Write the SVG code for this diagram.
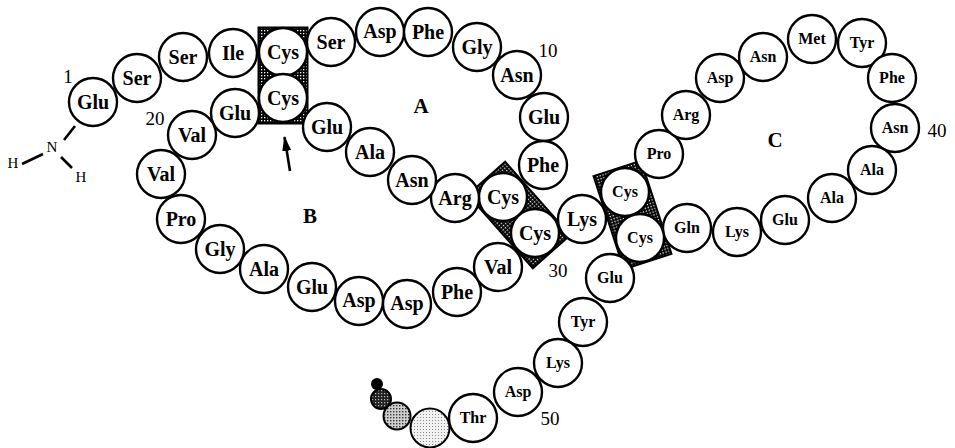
<svg xmlns="http://www.w3.org/2000/svg" width="955" height="448" viewBox="0 0 955 448">
<style>
.n circle{fill:#fff;stroke:#000;stroke-width:2.4}
.n text{font-family:"Liberation Serif","Times New Roman",serif;font-weight:bold;font-size:20px;text-anchor:middle;fill:#000}
.n.s text{font-size:16px}
.num{font-family:"Liberation Serif","Times New Roman",serif;font-size:19px;text-anchor:middle;fill:#000}
.ring{font-family:"Liberation Serif","Times New Roman",serif;font-weight:bold;font-size:21px;text-anchor:middle;fill:#000}
.atom{font-family:"Liberation Serif","Times New Roman",serif;font-size:15px;text-anchor:middle;fill:#000}
.box{fill:url(#stip);stroke:#000;stroke-width:2}
.bond{stroke:#000;stroke-width:2.6;fill:none}
.tail{stroke:#000;stroke-width:2}
</style>
<defs>
<pattern id="stip" width="3" height="3" patternUnits="userSpaceOnUse">
<rect width="3" height="3" fill="#000"/>
<rect x="0" y="0" width="1.3" height="1.3" fill="#fff"/>
</pattern>
<pattern id="light" width="3" height="3" patternUnits="userSpaceOnUse">
<rect width="3" height="3" fill="#f2f2f2"/>
<rect x="0" y="0" width="1" height="1" fill="#888"/>
</pattern>
<pattern id="mid" width="3" height="3" patternUnits="userSpaceOnUse">
<rect width="3" height="3" fill="#cfcfcf"/>
<rect x="0" y="0" width="1.4" height="1.4" fill="#333"/>
</pattern>
<pattern id="dark" width="3" height="3" patternUnits="userSpaceOnUse">
<rect width="3" height="3" fill="#222"/>
<rect x="0" y="0" width="1.2" height="1.2" fill="#bbb"/>
</pattern>
<marker id="ah" markerWidth="15" markerHeight="9" refX="14" refY="4.5" orient="auto" markerUnits="userSpaceOnUse">
<path d="M0,0 L15,4.5 L0,9 Z" fill="#000"/>
</marker>
</defs>

<g id="disulfide-bridges">
<rect class="box" x="258.5" y="27.5" width="49" height="96"/>
<rect class="box" x="-49" y="-25" width="98" height="50" transform="translate(519,215) rotate(48.4)"/>
<rect class="box" x="-49" y="-25" width="98" height="50" transform="translate(632.5,215) rotate(71.9)"/>
</g>

<g id="connectors">
<line class="bond" x1="75" y1="126" x2="64" y2="140"/>
<line class="bond" x1="22" y1="164" x2="43" y2="154"/>
<line class="bond" x1="61" y1="157" x2="72" y2="168"/>
<line class="bond" x1="290" y1="171" x2="284.5" y2="137" marker-end="url(#ah)" stroke-width="2.2"/>
</g>

<g id="r1" class="n"><circle cx="93" cy="102" r="24"/><text x="93" y="109">Glu</text></g>
<g id="r2" class="n"><circle cx="137" cy="78" r="24"/><text x="137" y="85">Ser</text></g>
<g id="r3" class="n"><circle cx="183" cy="57" r="24"/><text x="183" y="64">Ser</text></g>
<g id="r4" class="n"><circle cx="233" cy="53" r="24"/><text x="233" y="60">Ile</text></g>
<g id="r5" class="n"><circle cx="283" cy="52" r="24"/><text x="283" y="59">Cys</text></g>
<g id="r6" class="n"><circle cx="331" cy="42" r="24"/><text x="331" y="49">Ser</text></g>
<g id="r7" class="n"><circle cx="380" cy="32" r="24"/><text x="380" y="38">Asp</text></g>
<g id="r8" class="n"><circle cx="428" cy="32" r="24"/><text x="428" y="39">Phe</text></g>
<g id="r9" class="n"><circle cx="477" cy="47" r="24"/><text x="477" y="54">Gly</text></g>
<g id="r10" class="n"><circle cx="517" cy="75" r="24"/><text x="517" y="82">Asn</text></g>
<g id="r11" class="n"><circle cx="544" cy="117" r="24"/><text x="544" y="124">Glu</text></g>
<g id="r12" class="n"><circle cx="543" cy="165" r="24"/><text x="543" y="172">Phe</text></g>
<g id="r13" class="n"><circle cx="503" cy="197" r="24"/><text x="503" y="204">Cys</text></g>
<g id="r14" class="n"><circle cx="455" cy="198" r="24"/><text x="455" y="205">Arg</text></g>
<g id="r15" class="n"><circle cx="412" cy="180" r="24"/><text x="412" y="187">Asn</text></g>
<g id="r16" class="n"><circle cx="370" cy="152" r="24"/><text x="370" y="159">Ala</text></g>
<g id="r17" class="n"><circle cx="327" cy="127" r="24"/><text x="327" y="134">Glu</text></g>
<g id="r18" class="n"><circle cx="283" cy="98" r="24"/><text x="283" y="105">Cys</text></g>
<g id="r19" class="n"><circle cx="235" cy="113" r="24"/><text x="235" y="120">Glu</text></g>
<g id="r20" class="n"><circle cx="192" cy="135" r="24"/><text x="192" y="142">Val</text></g>
<g id="r21" class="n"><circle cx="161" cy="174" r="24"/><text x="161" y="181">Val</text></g>
<g id="r22" class="n"><circle cx="181" cy="219" r="24"/><text x="181" y="226">Pro</text></g>
<g id="r23" class="n"><circle cx="220" cy="249" r="24"/><text x="220" y="256">Gly</text></g>
<g id="r24" class="n"><circle cx="264" cy="269" r="24"/><text x="264" y="276">Ala</text></g>
<g id="r25" class="n"><circle cx="312" cy="287" r="24"/><text x="312" y="294">Glu</text></g>
<g id="r26" class="n"><circle cx="359" cy="301" r="24"/><text x="359" y="307">Asp</text></g>
<g id="r27" class="n"><circle cx="407" cy="304" r="24"/><text x="407" y="310">Asp</text></g>
<g id="r28" class="n"><circle cx="457" cy="292" r="24"/><text x="457" y="299">Phe</text></g>
<g id="r29" class="n"><circle cx="498" cy="267" r="24"/><text x="498" y="274">Val</text></g>
<g id="r30" class="n"><circle cx="535" cy="233" r="24"/><text x="535" y="240">Cys</text></g>
<g id="r31" class="n"><circle cx="582" cy="219" r="24"/><text x="582" y="226">Lys</text></g>
<g id="r32" class="n s"><circle cx="625" cy="192" r="24"/><text x="625" y="197">Cys</text></g>
<g id="r33" class="n s"><circle cx="659" cy="154" r="24"/><text x="659" y="159">Pro</text></g>
<g id="r34" class="n s"><circle cx="686" cy="115" r="24"/><text x="686" y="120">Arg</text></g>
<g id="r35" class="n s"><circle cx="720" cy="78" r="24"/><text x="720" y="83">Asp</text></g>
<g id="r36" class="n s"><circle cx="763" cy="57" r="24"/><text x="763" y="62">Asn</text></g>
<g id="r37" class="n s"><circle cx="812" cy="39" r="24"/><text x="812" y="44">Met</text></g>
<g id="r38" class="n s"><circle cx="862" cy="43" r="24"/><text x="862" y="48">Tyr</text></g>
<g id="r39" class="n s"><circle cx="892" cy="78" r="24"/><text x="892" y="83">Phe</text></g>
<g id="r40" class="n s"><circle cx="895" cy="128" r="24"/><text x="895" y="133">Asn</text></g>
<g id="r41" class="n s"><circle cx="872" cy="170" r="24"/><text x="872" y="175">Ala</text></g>
<g id="r42" class="n s"><circle cx="832" cy="198" r="24"/><text x="832" y="203">Ala</text></g>
<g id="r43" class="n s"><circle cx="785" cy="220" r="24"/><text x="785" y="225">Glu</text></g>
<g id="r44" class="n s"><circle cx="737" cy="232" r="24"/><text x="737" y="237">Lys</text></g>
<g id="r45" class="n s"><circle cx="687" cy="228" r="24"/><text x="687" y="233">Gln</text></g>
<g id="r46" class="n s"><circle cx="640" cy="238" r="24"/><text x="640" y="243">Cys</text></g>
<g id="r47" class="n s"><circle cx="610" cy="278" r="24"/><text x="610" y="283">Glu</text></g>
<g id="r48" class="n s"><circle cx="583" cy="322" r="24"/><text x="583" y="327">Tyr</text></g>
<g id="r49" class="n s"><circle cx="558" cy="363" r="24"/><text x="558" y="368">Lys</text></g>
<g id="r50" class="n s"><circle cx="518" cy="392" r="24"/><text x="518" y="397">Asp</text></g>
<g id="r51" class="n s"><circle cx="473" cy="418" r="24"/><text x="473" y="423">Thr</text></g>

<g id="tail">
<circle class="tail" cx="430" cy="428" r="19.5" fill="url(#light)"/>
<circle class="tail" cx="397" cy="416" r="13.5" fill="url(#mid)"/>
<circle class="tail" cx="381" cy="399" r="10" fill="url(#dark)"/>
<circle cx="377" cy="384" r="6" fill="#000"/>
</g>

<g id="amine">
<text class="atom" x="52" y="152">N</text>
<text class="atom" x="13" y="168">H</text>
<text class="atom" x="81" y="182">H</text>
</g>

<g id="numbers">
<text class="num" x="68" y="83">1</text>
<text class="num" x="548" y="57">10</text>
<text class="num" x="155" y="125">20</text>
<text class="num" x="558" y="277">30</text>
<text class="num" x="937" y="137">40</text>
<text class="num" x="550" y="425">50</text>
</g>

<g id="ring-labels">
<text class="ring" x="421" y="113">A</text>
<text class="ring" x="310" y="223">B</text>
<text class="ring" x="775" y="147">C</text>
</g>
</svg>
